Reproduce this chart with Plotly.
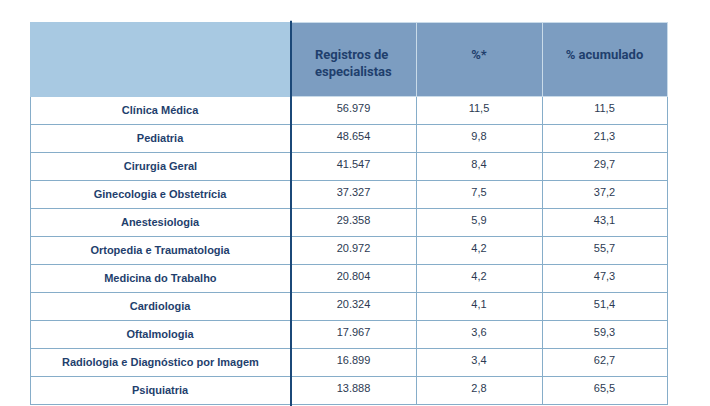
import plotly.graph_objects as go

# especialidades e registros
especialidades = ['Clínica Médica', 'Pediatria', 'Cirurgia Geral', 'Ginecologia e Obstetrícia',
                  'Anestesiologia', 'Ortopedia e Traumatologia', 'Medicina do Trabalho',
                  'Cardiologia', 'Oftalmologia', 'Radiologia e Diagnóstico por Imagem', 'Psiquiatria']
registros = ['56.979', '48.654', '41.547', '37.327', '29.358', '20.972', '20.804',
             '20.324', '17.967', '16.899', '13.888']
pct = ['11,5', '9,8', '8,4', '7,5', '5,9', '4,2', '4,2', '4,1', '3,6', '3,4', '2,8']
pct_acum = ['11,5', '21,3', '29,7', '37,2', '43,1', '55,7', '47,3', '51,4', '59,3', '62,7', '65,5']
cabecalho = ['', 'Registros de<br>especialistas', '%*', '% acumulado']

navy = '#1f3f6d'
borda = '#86adc9'

# cabeçalho: linha vazia no início para descer o texto (a tabela alinha no topo)
cab_txt = []
for h in cabecalho:
    linhas = ['<b>' + l + '</b>' for l in h.split('<br>')]
    cab_txt.append('&nbsp;<br>' + '<br>'.join(linhas))

fig = go.Figure(go.Table(
    columnwidth=[261, 125, 126, 125],
    header=dict(
        values=cab_txt,
        fill_color=['#a8c9e2', '#7c9dc1', '#7c9dc1', '#7c9dc1'],
        line_color=['#a8c9e2', '#c9dbe9', '#c9dbe9', '#c9dbe9'],
        line_width=1,
        align='center',
        height=74,
        font=dict(family='Roboto', size=13, color=navy),
    ),
    cells=dict(
        values=[['<b>' + e + '</b>' for e in especialidades], registros, pct, pct_acum],
        fill_color='white',
        line_color=borda,
        line_width=1,
        align='center',
        height=28,
        font=dict(family='Liberation Sans', size=11, color=[navy, '#2c3a52', '#2c3a52', '#2c3a52']),
    ),
))

# linha vertical escura separando a primeira coluna
fig.add_shape(type='line', xref='paper', yref='paper',
              x0=261 / 637, x1=261 / 637, y0=0, y1=1.003,
              line=dict(color='#1b4878', width=2))

fig.update_layout(
    width=710, height=406,
    margin={'t': 14, 'l': 22, 'r': 51, 'b': 0},
    paper_bgcolor='white',
    plot_bgcolor='white',
)
fig.write_html("out.html")
